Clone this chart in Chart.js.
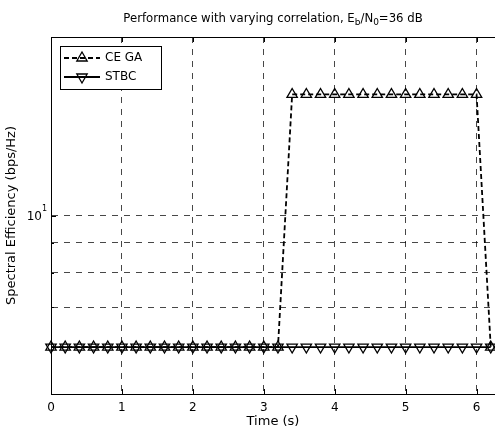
<!DOCTYPE html>
<html>
<head>
<meta charset="utf-8">
<script src="https://cdn.jsdelivr.net/npm/chart.js@4.4.0/dist/chart.umd.min.js"></script>
<style>
  html, body { margin: 0; padding: 0; background: #fff; }
  #wrap { width: 495px; height: 431px; }
</style>
</head>
<body>
<div id="wrap"><canvas id="chart" width="495" height="431"></canvas></div>
<script>
// Données
const timeSteps = [0, 0.2, 0.4, 0.6, 0.8, 1, 1.2, 1.4, 1.6, 1.8, 2, 2.2, 2.4, 2.6, 2.8, 3,
  3.2, 3.4, 3.6, 3.8, 4, 4.2, 4.4, 4.6, 4.8, 5, 5.2, 5.4, 5.6, 5.8, 6, 6.2];
const ceGaValues = [6, 6, 6, 6, 6, 6, 6, 6, 6, 6, 6, 6, 6, 6, 6, 6,
  6, 16, 16, 16, 16, 16, 16, 16, 16, 16, 16, 16, 16, 16, 16, 6];
const stbcValues = [6, 6, 6, 6, 6, 6, 6, 6, 6, 6, 6, 6, 6, 6, 6, 6,
  6, 6, 6, 6, 6, 6, 6, 6, 6, 6, 6, 6, 6, 6, 6, 6];
const xTickValues = [0, 1, 2, 3, 4, 5, 6];
const yGridValues = [5, 6, 7, 8, 9, 10, 20];
const yMajorValues = [10];
const seriesNames = ["CE GA", "STBC"];

const FONT = "'DejaVu Sans', sans-serif";
const GRID_COLOR = "rgba(0, 0, 0, 0.72)";

function toPoints(values) {
  return timeSteps.map((t, i) => ({ x: t, y: values[i] }));
}

function triangle(ctx, x, y, r, down) {
  const s = down ? -1 : 1;
  ctx.beginPath();
  ctx.moveTo(x, y - s * r);
  ctx.lineTo(x + r * 0.866, y + s * r * 0.5);
  ctx.lineTo(x - r * 0.866, y + s * r * 0.5);
  ctx.closePath();
  ctx.stroke();
}

// Décor façon MATLAB : titre, libellés, cadre, légende
const matlabDecor = {
  id: "matlabDecor",
  afterDraw(chart) {
    const ctx = chart.ctx;
    const area = chart.chartArea;
    const xs = chart.scales.x;
    const ys = chart.scales.y;

    ctx.save();
    ctx.strokeStyle = "#000";
    ctx.fillStyle = "#000";
    ctx.lineWidth = 1;
    ctx.setLineDash([]);

    // cadre haut
    ctx.beginPath();
    ctx.moveTo(area.left, area.top + 0.5);
    ctx.lineTo(area.right, area.top + 0.5);
    ctx.stroke();

    // graduations vers l'intérieur
    xTickValues.forEach((v) => {
      const px = Math.round(xs.getPixelForValue(v)) + 0.5;
      ctx.beginPath();
      ctx.moveTo(px, area.bottom);
      ctx.lineTo(px, area.bottom - 5);
      ctx.moveTo(px, area.top);
      ctx.lineTo(px, area.top + 5);
      ctx.stroke();
    });
    yGridValues.forEach((v) => {
      const py = Math.round(ys.getPixelForValue(v)) + 0.5;
      const len = yMajorValues.includes(v) ? 5 : 3;
      ctx.beginPath();
      ctx.moveTo(area.left, py);
      ctx.lineTo(area.left + len, py);
      ctx.stroke();
    });

    // étiquette 10^1
    ctx.textBaseline = "middle";
    yMajorValues.forEach((v) => {
      const py = ys.getPixelForValue(v);
      ctx.font = "12px " + FONT;
      ctx.textAlign = "right";
      ctx.fillText("10", area.left - 9, py + 1);
      ctx.font = "8px " + FONT;
      ctx.textAlign = "left";
      ctx.fillText(String(Math.round(Math.log10(v))), area.left - 9, py - 7);
    });

    // titre avec indices
    const parts = [
      ["Performance with varying correlation, E", 0],
      ["b", 1],
      ["/N", 0],
      ["0", 1],
      ["=36 dB", 0]
    ];
    const fontFor = (sub) => (sub ? "9px " : "11.7px ") + FONT;
    let total = 0;
    parts.forEach(([t, sub]) => { ctx.font = fontFor(sub); total += ctx.measureText(t).width; });
    let tx = (area.left + area.right) / 2 - total / 2;
    ctx.textAlign = "left";
    ctx.textBaseline = "alphabetic";
    parts.forEach(([t, sub]) => {
      ctx.font = fontFor(sub);
      ctx.fillText(t, tx, sub ? 25 : 22);
      tx += ctx.measureText(t).width;
    });

    // titres des axes
    ctx.font = "13px " + FONT;
    ctx.textAlign = "center";
    ctx.textBaseline = "middle";
    ctx.fillText("Time (s)", (area.left + area.right) / 2, 422);
    ctx.save();
    ctx.translate(12, (area.top + area.bottom) / 2);
    ctx.rotate(-Math.PI / 2);
    ctx.fillText("Spectral Efficiency (bps/Hz)", 0, 0);
    ctx.restore();

    // légende
    const lx = 60.5, ly = 46.5, lw = 101, lh = 43;
    ctx.fillStyle = "#fff";
    ctx.fillRect(lx, ly, lw, lh);
    ctx.strokeRect(lx, ly, lw, lh);
    const rows = [
      { name: seriesNames[0], y: 58, dash: [5, 3], down: false },
      { name: seriesNames[1], y: 77, dash: [], down: true }
    ];
    rows.forEach((r) => {
      ctx.lineWidth = 1.8;
      ctx.setLineDash(r.dash);
      ctx.beginPath();
      ctx.moveTo(64, r.y);
      ctx.lineTo(100, r.y);
      ctx.stroke();
      ctx.setLineDash([]);
      ctx.lineWidth = 1.3;
      triangle(ctx, 82, r.y, 6, r.down);
      ctx.fillStyle = "#000";
      ctx.font = "12px " + FONT;
      ctx.textAlign = "left";
      ctx.textBaseline = "middle";
      ctx.fillText(r.name, 105, r.y);
    });

    ctx.restore();
  }
};

const ctx = document.getElementById("chart");
new Chart(ctx, {
  type: "line",
  data: {
    datasets: [
      {
        label: seriesNames[0],
        data: toPoints(ceGaValues),
        borderColor: "#000",
        borderWidth: 1.8,
        borderDash: [5, 3],
        pointStyle: "triangle",
        pointRadius: 6,
        pointBorderColor: "#000",
        pointBackgroundColor: "rgba(0,0,0,0)",
        pointBorderWidth: 1.3,
        tension: 0,
        clip: false,
      },
      {
        label: seriesNames[1],
        data: toPoints(stbcValues),
        borderColor: "#000",
        borderWidth: 1.8,
        pointStyle: "triangle",
        pointRotation: 180,
        pointRadius: 6,
        pointBorderColor: "#000",
        pointBackgroundColor: "rgba(0,0,0,0)",
        pointBorderWidth: 1.3,
        tension: 0,
        clip: false,
      },
    ],
  },
  options: {
    responsive: false,
    animation: false,
    layout: { autoPadding: false, padding: { top: 37, left: 0, right: 0, bottom: 0 } },
    plugins: {
      legend: { display: false },
      tooltip: { enabled: false },
    },
    scales: {
      x: {
        type: "linear",
        min: 0,
        max: 6.26,
        afterBuildTicks: (s) => { s.ticks = xTickValues.map((v) => ({ value: v })); },
        afterFit: (s) => { s.height = 37; s.paddingLeft = 0; s.paddingRight = 0; },
        grid: { color: GRID_COLOR, lineWidth: 1, drawTicks: false },
        border: { display: true, color: "#000", width: 1, dash: [6, 6] },
        ticks: {
          color: "#000",
          padding: 7,
          maxRotation: 0,
          font: { family: FONT, size: 12 },
        },
      },
      y: {
        type: "logarithmic",
        min: 5,
        max: 20,
        afterBuildTicks: (s) => { s.ticks = yGridValues.map((v) => ({ value: v })); },
        afterFit: (s) => { s.width = 51; s.paddingTop = 0; s.paddingBottom = 0; },
        grid: { color: GRID_COLOR, lineWidth: 1, drawTicks: false },
        border: { display: true, color: "#000", width: 1, dash: [6, 6] },
        ticks: { display: false },
      },
    },
  },
  plugins: [matlabDecor],
});
</script>
</body>
</html>
